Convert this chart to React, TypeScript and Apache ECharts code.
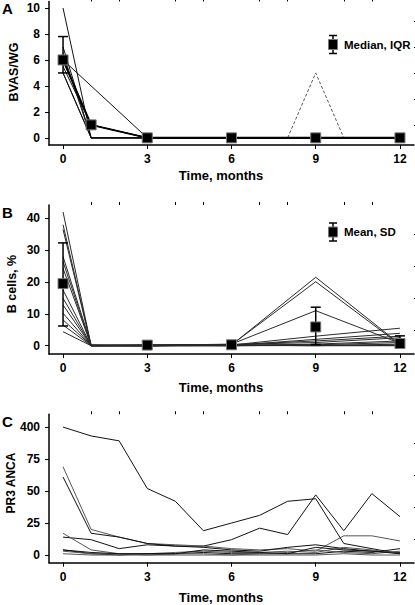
import React, { useEffect, useRef } from "react";
import * as echarts from "echarts";

// ---------- Panel A: BVAS/WG ----------
const bvasMonths = [0, 1, 3, 6, 9, 12];
const bvasPatients: (number | null)[][] = [
  [10, 0, 0, 0, 0, 0],
  [7, 0, 0, 0, 0, 0],
  [6.5, 0, 0, 0, 0, 0],
  [6, null, 0, 0, 0, 0],
  [6, 1, 0, 0, 0, 0],
  [5.5, 1, 0, 0, 0, 0],
  [5, 0, 0, 0, 0, 0],
  [5, 0, 0, 0, 0, 0],
];
const bvasMedian = [6, 1, 0, 0, 0, 0];
const bvasIqrMonths = [0];
const bvasIqrLow = [5];
const bvasIqrHigh = [7.8];
const bvasRelapseMonths = [8, 9, 10];
const bvasRelapse = [0, 5, 0];

// ---------- Panel B: B cells, % ----------
const bcellMonths = [0, 1, 3, 6, 9, 12];
const bcellPatients: number[][] = [
  [42, 0, 0, 0.2, 21.5, 0.5],
  [38, 0, 0, 0.3, 20.1, 0.3],
  [36.5, 0.2, 0.1, 0.5, 11, 0.8],
  [28, 0.3, 0.2, 0.2, 3, 5.5],
  [26.4, 0, 0, 0.1, 2, 3.9],
  [24.3, 0.1, 0, 0.3, 1.5, 3],
  [17.5, 0, 0.3, 0.4, 1, 2.5],
  [14.9, 0, 0, 0, 0.5, 1.5],
  [12.8, 0, 0.2, 0.3, 0.3, 1],
  [10.2, 0, 0, 0.2, 0, 0.5],
  [8.1, 0.1, 0.1, 0, 0.2, 0.2],
  [6.5, 0, 0, 0.1, 0, 0],
  [4.4, 0, 0, 0, 0.1, 0.1],
];
const bcellMeanMonths = [0, 3, 6, 9, 12];
const bcellMean = [19.5, 0.2, 0.3, 5.9, 0.7];
const bcellSdLow = [6.2, 0.2, 0.3, 0.4, -0.5];
const bcellSdHigh = [32.3, 0.2, 0.3, 12.1, 3.1];
const bcellSdMonths = [0, 9, 12];

// ---------- Panel C: PR3 ANCA ----------
const pr3Months = [0, 1, 2, 3, 4, 5, 6, 7, 8, 9, 10, 11, 12];
const pr3Patients: number[][] = [
  [400, 310, 260, 52, 42, 19, 25, 31, 42, 44, 9, 5, 1],
  [14, 12, 5, 8, 7, 7, 12, 21, 16, 47, 19, 48, 30],
  [69, 20, 14, 9, 8, 7, 5, 4, 5, 3, 15, 15, 11],
  [61, 17, 14, 9, 7, 6, 4, 3, 6, 8, 5, 3, 2],
  [17, 4, 1, 1, 2, 3, 2, 2, 3, 2, 6, 4, 1],
  [4, 1, 0, 1, 1, 2, 1, 1, 1, 1, 3, 2, 5],
  [3, 1, 1, 0, 1, 1, 0, 1, 2, 4, 2, 1, 3],
  [1, 0, 0, 0, 0, 0, 0, 0, 0, 0, 1, 0, 0],
  [4, 2, 1, 1, 1, 4, 3, 2, 1, 6, 4, 3, 1],
];
const pr3Gray = [false, false, true, false, true, false, true, true, false];

// axis tick labels
const monthTicks = [0, 3, 6, 9, 12];
const monthMinor = [1, 2, 4, 5, 7, 8, 10, 11];
const bvasTicks = [0, 2, 4, 6, 8, 10];
const bvasMinor = [1, 3, 5, 7, 9];
const bcellTicks = [0, 10, 20, 30, 40];
const bcellMinor = [5, 15, 25, 35];
const pr3Ticks = [0, 25, 50, 75, 100];
const pr3TickLabels = ["0", "25", "50", "75", "400"];
const pr3Minor = [12.5, 37.5, 62.5, 87.5];

// broken-axis mapping for PR3 ANCA (75..400 compressed into 75..100)
const pr3ToAxis = (v: number) => (v <= 75 ? v : 75 + ((v - 75) * 25) / 325);

const FONT = '"Liberation Sans", Arial, sans-serif';

export default function App() {
  const ref = useRef<HTMLDivElement>(null);

  useEffect(() => {
    if (!ref.current) return;
    const chart = echarts.init(ref.current, null, { renderer: "svg" });

    const grids = [
      { left: 49, top: 1.5, width: 365, height: 143.5 },
      { left: 49, top: 205, width: 365, height: 149 },
      { left: 49, top: 414.3, width: 365, height: 148.4 },
    ];
    const yRanges = [
      [-0.55, 10.5],
      [-2.6, 44.2],
      [-6, 110],
    ];
    const yTicks = [bvasTicks, bcellTicks, pr3Ticks];
    const yMinor = [bvasMinor, bcellMinor, pr3Minor];

    const labelStyle = { color: "#000", fontWeight: "bold" as const, fontSize: 12, fontFamily: FONT };

    const xAxis: any[] = [];
    const yAxis: any[] = [];
    for (let g = 0; g < 3; g++) {
      xAxis.push({
        type: "value",
        gridIndex: g,
        min: -0.5,
        max: 12.5,
        axisLine: { show: true, onZero: false, lineStyle: { color: "#000", width: 1.5 } },
        axisTick: { show: true, customValues: monthTicks, length: 4, lineStyle: { color: "#000", width: 1 } },
        axisLabel: { show: true, customValues: monthTicks, margin: 8, ...labelStyle },
        splitLine: { show: false },
      });
      xAxis.push({
        type: "value",
        gridIndex: g,
        min: -0.5,
        max: 12.5,
        axisLine: { show: false, onZero: false },
        axisTick: { show: true, customValues: monthMinor, length: 3, lineStyle: { color: "#000", width: 1 } },
        axisLabel: { show: false },
        splitLine: { show: false },
      });
      yAxis.push({
        type: "value",
        gridIndex: g,
        min: yRanges[g][0],
        max: yRanges[g][1],
        axisLine: { show: true, onZero: false, lineStyle: { color: "#000", width: 1.5 } },
        axisTick: { show: true, customValues: yTicks[g], length: 4, lineStyle: { color: "#000", width: 1 } },
        axisLabel: {
          show: true,
          customValues: yTicks[g],
          margin: 9,
          ...labelStyle,
          formatter: g === 2 ? (v: number) => pr3TickLabels[pr3Ticks.indexOf(v)] ?? String(v) : undefined,
        },
        splitLine: { show: false },
      });
      yAxis.push({
        type: "value",
        gridIndex: g,
        min: yRanges[g][0],
        max: yRanges[g][1],
        axisLine: { show: false, onZero: false },
        axisTick: { show: true, customValues: yMinor[g], length: 3, lineStyle: { color: "#000", width: 1 } },
        axisLabel: { show: false },
        splitLine: { show: false },
      });
    }

    const errorBar = (g: number, data: number[][], capHalf: number) => ({
      type: "custom",
      xAxisIndex: 2 * g,
      yAxisIndex: 2 * g,
      z: 5,
      encode: { x: 0, y: [1, 2] },
      data,
      renderItem: (_p: any, api: any) => {
        const x = api.value(0);
        const lo = api.coord([x, api.value(1)]);
        const hi = api.coord([x, api.value(2)]);
        const st = { stroke: "#000", lineWidth: 1.5 };
        return {
          type: "group",
          children: [
            { type: "line", shape: { x1: lo[0], y1: lo[1], x2: hi[0], y2: hi[1] }, style: st },
            { type: "line", shape: { x1: lo[0] - capHalf, y1: lo[1], x2: lo[0] + capHalf, y2: lo[1] }, style: st },
            { type: "line", shape: { x1: hi[0] - capHalf, y1: hi[1], x2: hi[0] + capHalf, y2: hi[1] }, style: st },
          ],
        };
      },
    });

    const series: any[] = [];

    // Panel A
    bvasPatients.forEach((p) => {
      series.push({
        type: "line",
        xAxisIndex: 0,
        yAxisIndex: 0,
        data: bvasMonths.map((m, i) => [m, p[i]]),
        connectNulls: true,
        showSymbol: false,
        symbol: "none",
        lineStyle: { color: "#111", width: 1 },
        z: 2,
      });
    });
    series.push({
      type: "line",
      xAxisIndex: 0,
      yAxisIndex: 0,
      data: bvasRelapseMonths.map((m, i) => [m, bvasRelapse[i]]),
      symbol: "none",
      lineStyle: { color: "#555", width: 1, type: [3, 2] },
      z: 2,
    });
    series.push(
      errorBar(
        0,
        bvasIqrMonths.map((m, i) => [m, bvasIqrLow[i], bvasIqrHigh[i]]),
        5
      )
    );
    series.push({
      type: "line",
      xAxisIndex: 0,
      yAxisIndex: 0,
      data: bvasMonths.map((m, i) => [m, bvasMedian[i]]),
      symbol: "rect",
      symbolSize: 10,
      itemStyle: { color: "#000", borderColor: "#777", borderWidth: 1 },
      lineStyle: { color: "#000", width: 2 },
      z: 6,
    });

    // Panel B
    bcellPatients.forEach((p) => {
      series.push({
        type: "line",
        xAxisIndex: 2,
        yAxisIndex: 2,
        data: bcellMonths.map((m, i) => [m, p[i]]),
        symbol: "none",
        lineStyle: { color: "#2a2a2a", width: 1 },
        z: 2,
      });
    });
    series.push(
      errorBar(
        1,
        bcellSdMonths.map((m) => {
          const i = bcellMeanMonths.indexOf(m);
          return [m, bcellSdLow[i], bcellSdHigh[i]];
        }),
        5
      )
    );
    series.push({
      type: "scatter",
      xAxisIndex: 2,
      yAxisIndex: 2,
      data: bcellMeanMonths.map((m, i) => [m, bcellMean[i]]),
      symbol: "rect",
      symbolSize: 10,
      itemStyle: { color: "#000", borderColor: "#777", borderWidth: 1, opacity: 1 },
      z: 6,
    });

    // Panel C
    pr3Patients.forEach((p, k) => {
      series.push({
        type: "line",
        xAxisIndex: 4,
        yAxisIndex: 4,
        data: pr3Months.map((m, i) => [m, pr3ToAxis(p[i])]),
        symbol: "none",
        lineStyle: { color: pr3Gray[k] ? "#555" : "#111", width: 1 },
        z: 2,
      });
    });

    const txt = (text: string, x: number, y: number, size: number, rot = 0, align = "center") => ({
      type: "text",
      x,
      y,
      rotation: rot,
      style: {
        text,
        textAlign: align,
        textVerticalAlign: "middle",
        fill: "#000",
        font: `bold ${size}px ${FONT}`,
      },
    });

    const legendMarker = (cx: number, cy: number, half: number) => ({
      type: "group",
      children: [
        { type: "line", shape: { x1: cx, y1: cy - half, x2: cx, y2: cy + half }, style: { stroke: "#000", lineWidth: 1.5 } },
        { type: "line", shape: { x1: cx - 4, y1: cy - half, x2: cx + 4, y2: cy - half }, style: { stroke: "#000", lineWidth: 1.5 } },
        { type: "line", shape: { x1: cx - 4, y1: cy + half, x2: cx + 4, y2: cy + half }, style: { stroke: "#000", lineWidth: 1.5 } },
        { type: "rect", shape: { x: cx - 4.5, y: cy - 5, width: 9, height: 10 }, style: { fill: "#000", stroke: "#777", lineWidth: 1 } },
      ],
    });

    const graphic: any[] = [
      txt("A", 2, 8.5, 15, 0, "left"),
      txt("B", 2, 212, 15, 0, "left"),
      txt("C", 2, 421.5, 15, 0, "left"),
      txt("BVAS/WG", 14, 72, 12.5, Math.PI / 2),
      txt("B cells, %", 12, 284, 12.5, Math.PI / 2),
      txt("PR3 ANCA", 11, 483, 12, Math.PI / 2),
      txt("Time, months", 221, 175, 13),
      txt("Time, months", 221, 387, 13),
      txt("Time, months", 221, 597, 13),
      legendMarker(333, 44.5, 9),
      txt("Median, IQR", 344, 45, 11.5, 0, "left"),
      legendMarker(333, 232, 9),
      txt("Mean, SD", 344, 232, 11.5, 0, "left"),
    ];

    chart.setOption({
      animation: false,
      backgroundColor: "#fff",
      grid: grids,
      xAxis,
      yAxis,
      series,
      graphic,
    });

    return () => chart.dispose();
  }, []);

  return (
    <div
      ref={ref}
      style={{ position: "fixed", left: 0, top: 0, width: 415, height: 605, background: "#fff" }}
    />
  );
}
